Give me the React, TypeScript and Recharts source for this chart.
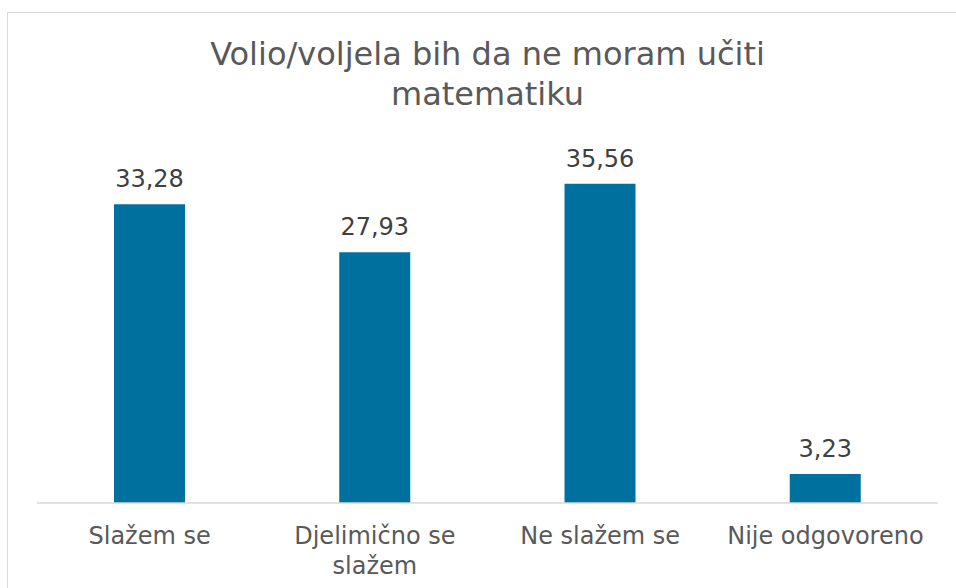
import { BarChart, Bar, XAxis, YAxis, LabelList } from "recharts";

// Stupčasti grafikon — "Volio/voljela bih da ne moram učiti matematiku" (%)

const kategorije = ["Slažem se", "Djelimično se slažem", "Ne slažem se", "Nije odgovoreno"];
const postoci = [33.28, 27.93, 35.56, 3.23];
// prijelomi redaka za oznake na osi X
const oznakeOsi = [["Slažem se"], ["Djelimično se", "slažem"], ["Ne slažem se"], ["Nije odgovoreno"]];

const data = kategorije.map((k, i) => ({ name: k, value: postoci[i], lines: oznakeOsi[i] }));

const FONT = "'DejaVu Sans', Verdana, sans-serif";
const TEXT = "#595959";

function Tick({ x, y, index }: any) {
  const lines = oznakeOsi[index] ?? [];
  return (
    <text x={x} y={y} textAnchor="middle" fill={TEXT} fontFamily={FONT} fontSize={24}>
      {lines.map((l, i) => (
        <tspan key={i} x={x} y={y + 41 + i * 30}>
          {l}
        </tspan>
      ))}
    </text>
  );
}

export default function App() {
  return (
    <div style={{ position: "absolute", left: 0, top: 0, width: 956, height: 588, background: "#fff", overflow: "hidden" }}>
      <div
        style={{
          position: "absolute",
          left: 7,
          top: 12,
          width: 980,
          height: 600,
          border: "1px solid #D9D9D9",
          boxSizing: "border-box",
        }}
      />
      <div
        style={{
          position: "absolute",
          left: 0,
          top: 34,
          width: 975,
          textAlign: "center",
          fontFamily: FONT,
          fontSize: 32,
          lineHeight: "40px",
          color: TEXT,
        }}
      >
        Volio/voljela bih da ne moram učiti
        <br />
        matematiku
      </div>
      <div style={{ position: "absolute", left: 0, top: 0 }}>
        <BarChart width={956} height={588} data={data} margin={{ top: 144, right: 18, left: 37, bottom: 25 }}>
          <YAxis hide domain={[0, 40]} />
          <XAxis
            dataKey="name"
            height={60}
            axisLine={{ stroke: "#D9D9D9", strokeWidth: 1.5 }}
            tickLine={false}
            tickSize={0}
            tickMargin={0}
            interval={0}
            tick={<Tick />}
          />
          <Bar dataKey="value" fill="#00709E" barSize={71} isAnimationActive={false}>
            <LabelList
              dataKey="value"
              position="top"
              offset={17}
              formatter={(v: any) => Number(v).toFixed(2).replace(".", ",")}
              style={{ fill: "#404040", fontFamily: FONT, fontSize: 24 }}
            />
          </Bar>
        </BarChart>
      </div>
    </div>
  );
}
